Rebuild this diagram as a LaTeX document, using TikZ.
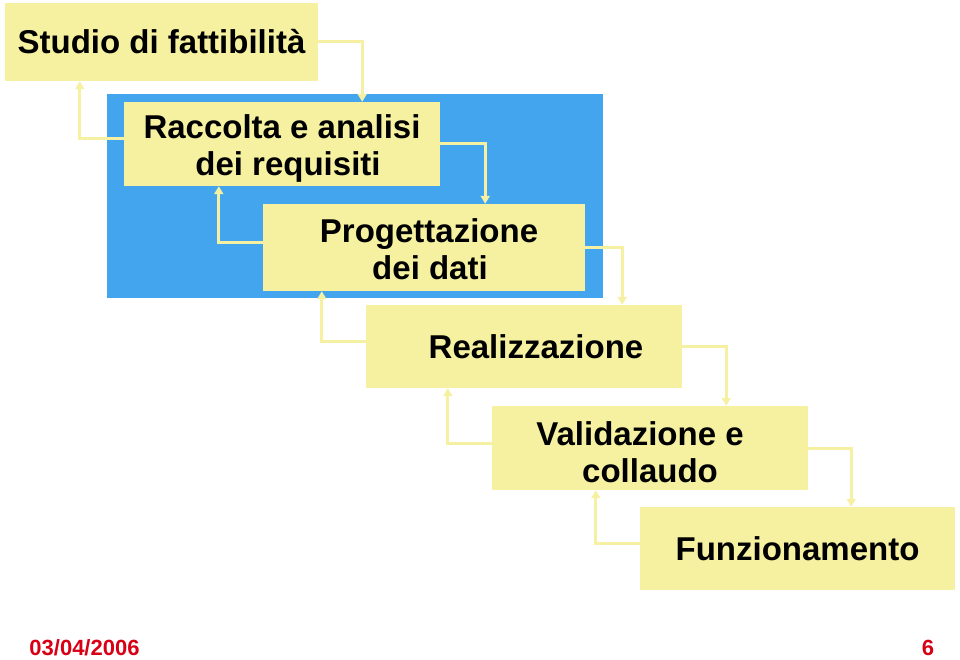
\documentclass[tikz,border=0pt]{standalone}
\usepackage{fontspec}
\setmainfont{Liberation Sans}
\usepackage{xcolor}
\usetikzlibrary{arrows.meta,positioning,calc}

\definecolor{phaseyellow}{RGB}{245,241,160}
\definecolor{linkyellow}{RGB}{246,240,162}
\definecolor{phaseblue}{RGB}{66,165,238}
\definecolor{footred}{RGB}{215,0,20}

\begin{document}
\begin{tikzpicture}[
    x=1pt, y=-1pt,
    phase/.style={rectangle, fill=phaseyellow, inner sep=0pt, align=center,
                  font=\fontsize{33}{37}\selectfont\bfseries},
    link/.style={draw=linkyellow, line width=3pt, -{Triangle[width=9pt,length=8pt]}},
    foot/.style={text=footred, inner sep=0pt, anchor=base,
                 font=\fontsize{22}{26}\selectfont\bfseries}
]
\useasboundingbox (0,0) rectangle (960,660);

% Blue background
\fill[phaseblue] (107,94) rectangle (603,298);

% Phases
\node[phase, minimum width=313pt, minimum height=78pt] (S) at (161.5,42) {Studio di fattibilità};
\node[phase, minimum width=316pt, minimum height=84pt] (R) at (282,144) {\rule{0pt}{33pt}Raccolta e analisi\\\hspace*{12pt}dei requisiti};
\node[phase, minimum width=322pt, minimum height=87pt] (P) at (424,247.5) {\rule{0pt}{28pt}\hspace*{10pt}Progettazione\\\hspace*{12pt}dei dati};
\node[phase, minimum width=316pt, minimum height=83pt] (Z) at (524,346.5) {\hspace*{24pt}Realizzazione};
\node[phase, minimum width=316pt, minimum height=84pt] (V) at (650,448) {\rule{0pt}{32pt}Validazione e\hspace*{20pt}\\collaudo};
\node[phase, minimum width=315pt, minimum height=83pt] (F) at (797.5,548.5) {Funzionamento};

% Forward links
\foreach \a/\b/\d in {S/R/44, R/P/45, P/Z/37, Z/V/44, V/F/43}
  \draw[link] (\a.east) -- ++(\d,0) coordinate (f\a) -- (f\a |- \b.north);

% Feedback links
\foreach \a/\b in {R/S, P/R, Z/P, V/Z, F/V}
  \draw[link] ([yshift=5pt]\a.west) -- ++(-44,0) coordinate (b\a) -- (b\a |- \b.south);

% Footer
\node[foot] (date) at (84.5,655) {03/04/2006};
\node[foot] (page) at (928,655) {6};

\end{tikzpicture}
\end{document}
